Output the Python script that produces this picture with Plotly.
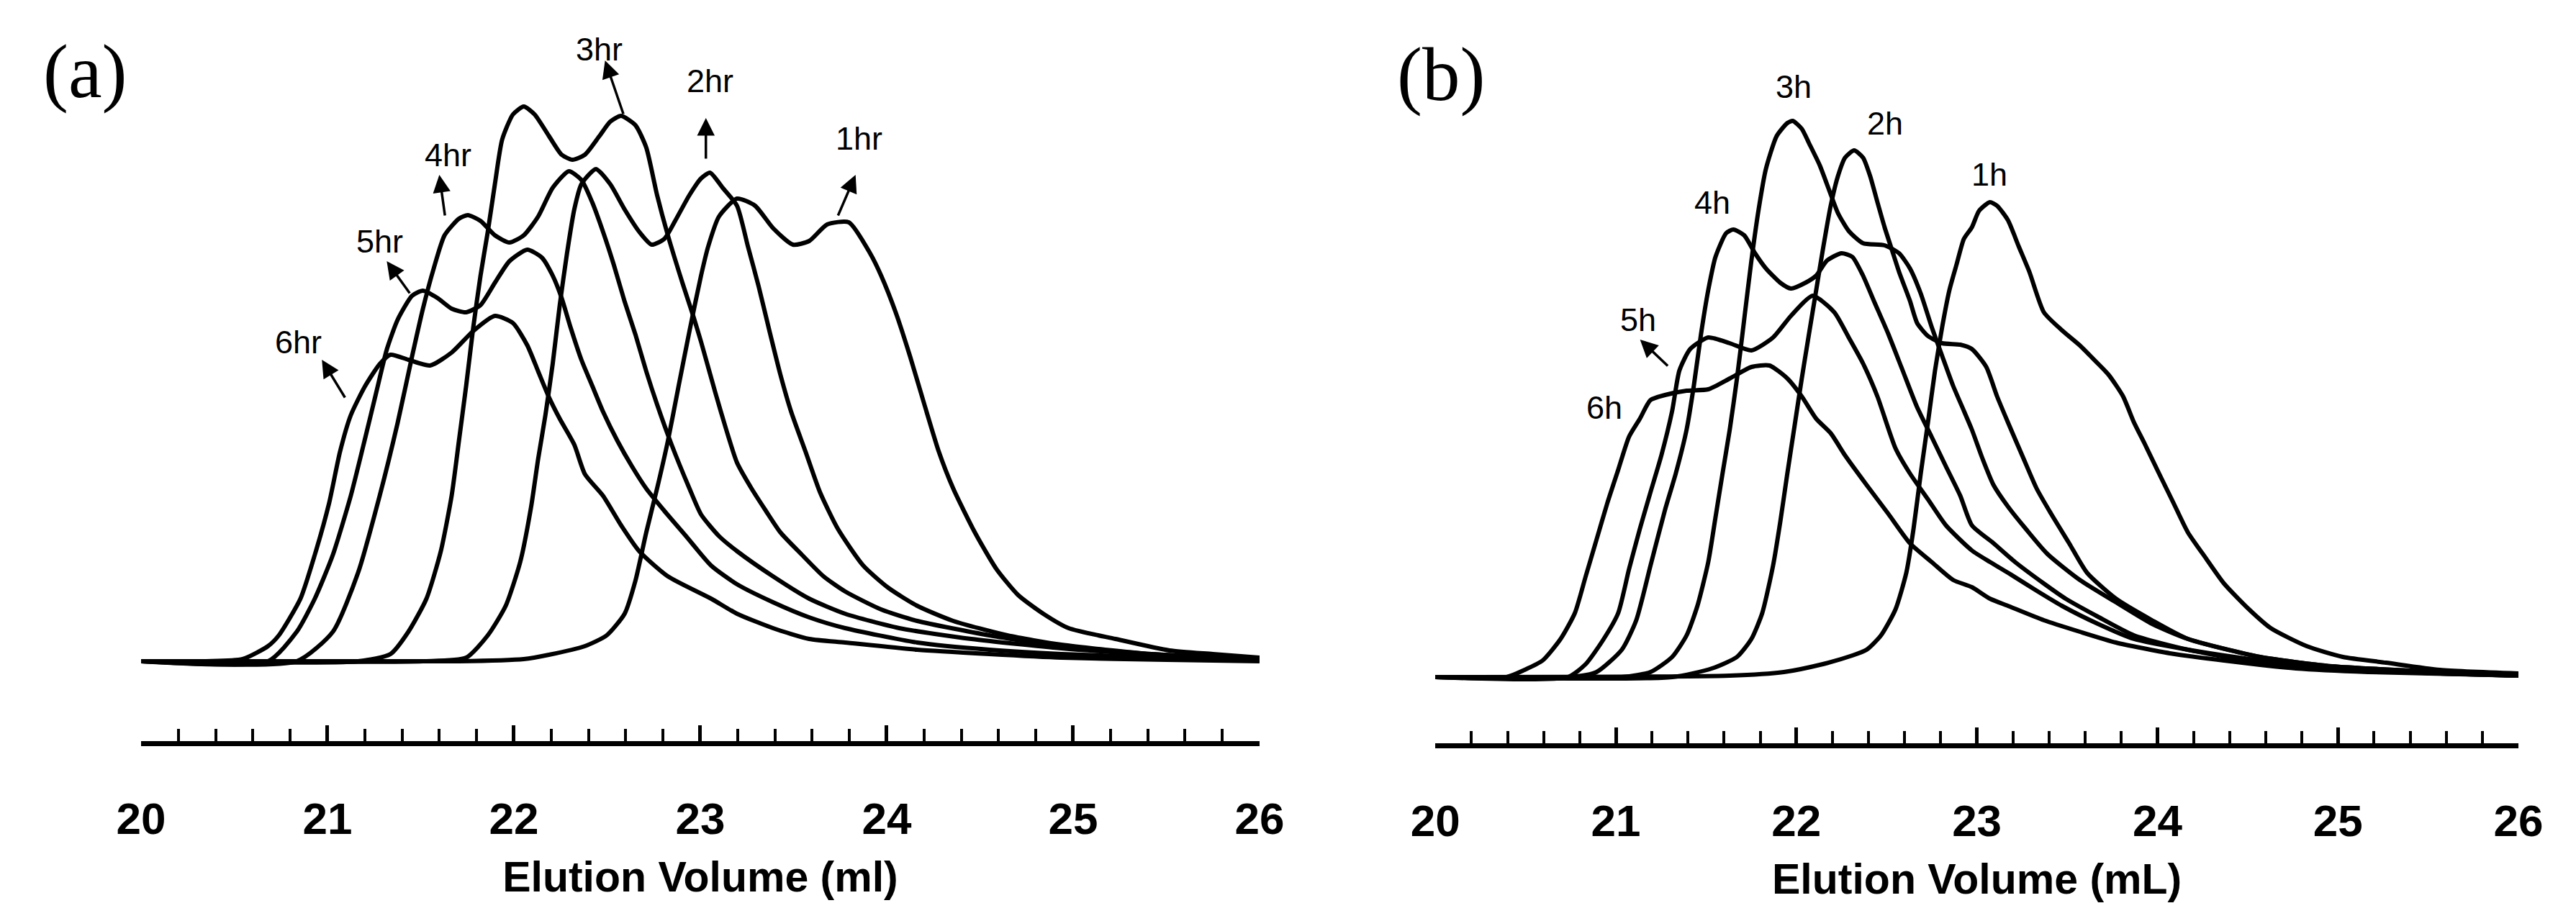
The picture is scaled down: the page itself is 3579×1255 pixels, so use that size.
import plotly.graph_objects as go

# Elution profiles.
# x = elution volume (ml), y = detector signal (arbitrary units, baseline = 0)

# (a) panel
a_6hr_ml = [20.0, 20.35, 20.545, 20.681, 20.739, 20.855, 20.932, 21.009, 21.067, 21.125, 21.203, 21.28, 21.338,
            21.434, 21.55, 21.666, 21.782, 21.898, 21.995, 22.072, 22.13, 22.188, 22.246, 22.324, 22.381, 22.478,
            22.575, 22.672, 22.826, 23.058, 23.197, 23.39, 23.584, 23.777, 24.164, 24.55, 24.937, 25.5, 26.0]
a_6hr_sig = [0, 0, 3, 21, 36, 87, 148, 220, 291, 342, 383, 413, 426, 419, 411, 429, 459, 480, 470, 439, 403, 367,
             337, 301, 260, 230, 189, 153, 118, 87, 66, 46, 31, 26, 16, 10, 5, 2, 0]

a_5hr_ml = [20.0, 20.681, 20.835, 20.932, 21.029, 21.125, 21.203, 21.261, 21.319, 21.377, 21.454, 21.512, 21.589,
            21.666, 21.744, 21.821, 21.898, 21.976, 22.072, 22.15, 22.208, 22.256, 22.304, 22.362, 22.42, 22.478,
            22.556, 22.633, 22.71, 22.807, 22.923, 23.058, 23.197, 23.39, 23.584, 23.777, 24.164, 24.55, 24.937,
            25.52, 26.0]
a_5hr_sig = [0, 0, 41, 87, 148, 230, 311, 373, 434, 475, 508, 515, 505, 490, 485, 495, 526, 556, 572, 561, 536, 505,
             464, 419, 383, 347, 306, 271, 240, 209, 174, 133, 107, 82, 61, 46, 26, 16, 10, 5, 1]

a_4hr_ml = [20.0, 20.835, 21.029, 21.164, 21.28, 21.377, 21.454, 21.512, 21.57, 21.628, 21.705, 21.753, 21.821,
            21.898, 21.976, 22.053, 22.13, 22.208, 22.295, 22.362, 22.42, 22.478, 22.536, 22.594, 22.652, 22.71,
            22.768, 22.846, 22.942, 23.004, 23.1, 23.197, 23.39, 23.584, 23.777, 24.067, 24.454, 24.937, 25.517, 26.0]
a_4hr_sig = [0, 0, 41, 123, 230, 332, 424, 490, 546, 592, 615, 620, 612, 592, 582, 592, 618, 658, 681, 669, 638, 597,
             551, 500, 454, 403, 357, 301, 240, 204, 174, 153, 118, 87, 66, 46, 31, 18, 8, 2]

a_3hr_ml = [20.0, 21.164, 21.338, 21.434, 21.531, 21.608, 21.666, 21.705, 21.744, 21.782, 21.821, 21.86, 21.898,
            21.937, 21.995, 22.053, 22.111, 22.188, 22.256, 22.314, 22.381, 22.459, 22.517, 22.575, 22.652, 22.71,
            22.768, 22.826, 22.904, 22.962, 23.004, 23.081, 23.139, 23.197, 23.275, 23.352, 23.43, 23.545, 23.661,
            23.777, 23.97, 24.164, 24.55, 24.937, 25.42, 26.0]
a_3hr_sig = [0, 0, 10, 41, 87, 153, 230, 306, 383, 464, 536, 597, 663, 725, 760, 771, 760, 730, 704, 697, 704, 730,
             750, 758, 745, 714, 648, 592, 526, 480, 444, 373, 322, 276, 240, 209, 179, 148, 118, 97, 72, 56, 36, 21,
             10, 3]

a_2hr_ml = [20.0, 21.512, 21.744, 21.86, 21.956, 22.034, 22.092, 22.13, 22.169, 22.208, 22.246, 22.285, 22.324,
            22.362, 22.44, 22.517, 22.594, 22.672, 22.739, 22.807, 22.865, 22.942, 23.004, 23.052, 23.12, 23.197,
            23.255, 23.313, 23.371, 23.43, 23.487, 23.565, 23.642, 23.738, 23.874, 24.009, 24.164, 24.357, 24.647,
            24.937, 25.42, 26.0]
a_2hr_sig = [0, 0, 5, 36, 77, 138, 214, 281, 342, 413, 495, 567, 628, 663, 684, 663, 628, 597, 579, 587, 612, 648,
             671, 679, 658, 633, 577, 521, 459, 398, 347, 291, 235, 184, 133, 102, 77, 56, 36, 23, 10, 3]

a_1hr_ml = [20.0, 21.705, 22.053, 22.188, 22.381, 22.498, 22.594, 22.652, 22.71, 22.768, 22.826, 22.884, 22.942,
            23.004, 23.043, 23.1, 23.197, 23.294, 23.39, 23.497, 23.584, 23.68, 23.797, 23.913, 23.97, 24.048,
            24.125, 24.202, 24.28, 24.357, 24.473, 24.589, 24.705, 24.84, 24.976, 25.227, 25.517, 25.749, 26.0]
a_1hr_sig = [0, 0, 3, 9, 21, 36, 66, 112, 179, 240, 306, 383, 459, 536, 577, 618, 643, 633, 602, 579, 584, 607, 610,
             566, 536, 485, 424, 357, 291, 240, 179, 128, 92, 66, 46, 31, 15, 10, 5]

# (b) panel
b_6h_ml = [20.0, 20.394, 20.494, 20.594, 20.694, 20.773, 20.833, 20.893, 20.953, 21.013, 21.073, 21.133, 21.192,
           21.272, 21.392, 21.512, 21.631, 21.751, 21.851, 21.95, 22.03, 22.11, 22.19, 22.27, 22.389, 22.509, 22.629,
           22.749, 22.868, 22.972, 23.072, 23.172, 23.371, 23.57, 23.77, 24.069, 24.369, 24.768, 25.167, 26.0]
b_6h_sig = [0, 0, 10, 23, 53, 89, 140, 191, 242, 288, 334, 359, 385, 392, 398, 400, 415, 431, 433, 415, 390, 359, 339,
            308, 267, 227, 186, 160, 135, 125, 109, 99, 79, 63, 48, 33, 23, 12, 7, 2]

b_5h_ml = [20.0, 20.733, 20.833, 20.933, 21.013, 21.073, 21.133, 21.192, 21.252, 21.312, 21.352, 21.412, 21.512,
           21.631, 21.751, 21.871, 21.97, 22.09, 22.21, 22.29, 22.369, 22.449, 22.549, 22.629, 22.729, 22.828, 22.972,
           23.072, 23.172, 23.331, 23.471, 23.67, 23.87, 24.169, 24.568, 24.967, 25.565, 26.0]
b_5h_sig = [0, 0, 18, 53, 89, 150, 206, 257, 308, 370, 426, 456, 472, 464, 454, 472, 502, 530, 507, 472, 436, 390, 318,
            283, 247, 211, 176, 160, 145, 120, 99, 74, 53, 38, 23, 12, 5, 2]

b_4h_ml = [20.0, 20.75, 20.893, 21.033, 21.113, 21.192, 21.272, 21.332, 21.392, 21.432, 21.472, 21.512, 21.552,
           21.611, 21.651, 21.711, 21.771, 21.831, 21.911, 21.97, 22.05, 22.11, 22.17, 22.25, 22.31, 22.369, 22.429,
           22.509, 22.589, 22.669, 22.749, 22.828, 22.908, 22.972, 23.092, 23.211, 23.371, 23.491, 23.67, 23.87,
           24.169, 24.568, 24.967, 25.565, 26.0]
b_4h_sig = [0, 0, 7, 38, 79, 155, 232, 283, 344, 405, 477, 538, 584, 617, 622, 614, 589, 568, 548, 540, 548, 558, 579,
            589, 584, 558, 523, 477, 426, 375, 334, 293, 252, 211, 186, 160, 130, 109, 84, 58, 38, 20, 12, 5, 2]

b_3h_ml = [20.0, 21.033, 21.192, 21.312, 21.392, 21.452, 21.512, 21.552, 21.591, 21.631, 21.671, 21.711, 21.751,
           21.791, 21.831, 21.891, 21.95, 21.98, 22.03, 22.07, 22.13, 22.19, 22.23, 22.29, 22.369, 22.489, 22.569,
           22.629, 22.689, 22.749, 22.808, 22.868, 22.928, 22.972, 23.032, 23.092, 23.172, 23.271, 23.391, 23.57,
           23.77, 23.97, 24.169, 24.568, 24.967, 25.565, 26.0]
b_3h_sig = [0, 0, 7, 28, 58, 99, 160, 222, 283, 344, 415, 497, 579, 650, 706, 752, 770, 773, 762, 742, 711, 671, 645,
            620, 603, 600, 589, 568, 533, 487, 446, 405, 370, 344, 303, 267, 237, 206, 171, 135, 104, 74, 53, 28, 15,
            7, 2]

b_2h_ml = [20.0, 21.312, 21.532, 21.671, 21.751, 21.811, 21.871, 21.911, 21.95, 21.99, 22.03, 22.07, 22.11, 22.15,
           22.19, 22.23, 22.27, 22.32, 22.369, 22.409, 22.449, 22.489, 22.529, 22.569, 22.629, 22.669, 22.729, 22.808,
           22.908, 22.972, 23.052, 23.112, 23.172, 23.251, 23.331, 23.411, 23.511, 23.61, 23.77, 23.97, 24.169,
           24.568, 24.967, 25.565, 26.0]
b_2h_sig = [0, 0, 12, 28, 53, 89, 155, 216, 283, 349, 415, 477, 538, 599, 655, 696, 722, 732, 722, 696, 660, 625, 594,
            563, 523, 492, 474, 464, 462, 456, 431, 390, 354, 308, 262, 227, 186, 145, 109, 79, 53, 28, 15, 7, 2]

b_1h_ml = [20.0, 21.631, 21.931, 22.13, 22.31, 22.389, 22.469, 22.549, 22.609, 22.649, 22.689, 22.729, 22.768,
           22.808, 22.848, 22.888, 22.928, 22.972, 23.012, 23.072, 23.112, 23.172, 23.231, 23.291, 23.371, 23.471,
           23.57, 23.63, 23.73, 23.81, 23.87, 23.93, 24.009, 24.089, 24.169, 24.269, 24.369, 24.508, 24.628, 24.827,
           25.027, 25.266, 25.565, 26.0]
b_1h_sig = [0, 2, 7, 17, 30, 38, 58, 94, 145, 206, 283, 354, 426, 487, 538, 574, 609, 625, 648, 660, 655, 635, 599,
            563, 507, 482, 461, 446, 420, 390, 354, 324, 283, 242, 201, 165, 130, 94, 68, 43, 28, 20, 10, 5]

# curve labels: (text, x, y) and arrows: (x, y of head, tail offset in px)
a_labels = [('6hr', 20.845, 444), ('5hr', 21.28, 584), ('4hr', 21.648, 704),
            ('3hr', 22.458, 851), ('2hr', 23.053, 807), ('1hr', 23.852, 727)]
a_arrows = [(20.97, 419, 33, 54), (21.318, 556, 33, 46), (21.6, 676, 8, 58),
            (22.489, 835, 26, 76), (23.03, 755, 0, 58), (23.833, 676, -25, 58)]
b_labels = [('6h', 20.935, 375), ('5h', 21.122, 497), ('4h', 21.533, 660),
            ('3h', 21.983, 821), ('2h', 22.491, 770), ('1h', 23.07, 699)]
b_arrows = [(21.134, 469, 40, 38)]

W, H = 3579, 1255
LINE = dict(color='black', width=6, shape='spline', smoothing=0.6)

fig = go.Figure()
for xs, ys, name in [(a_6hr_ml, a_6hr_sig, '6hr'), (a_5hr_ml, a_5hr_sig, '5hr'), (a_4hr_ml, a_4hr_sig, '4hr'),
                     (a_3hr_ml, a_3hr_sig, '3hr'), (a_2hr_ml, a_2hr_sig, '2hr'), (a_1hr_ml, a_1hr_sig, '1hr')]:
    fig.add_trace(go.Scatter(x=xs, y=ys, mode='lines', line=LINE, name=name, xaxis='x', yaxis='y'))
for xs, ys, name in [(b_6h_ml, b_6h_sig, '6h'), (b_5h_ml, b_5h_sig, '5h'), (b_4h_ml, b_4h_sig, '4h'),
                     (b_3h_ml, b_3h_sig, '3h'), (b_2h_ml, b_2h_sig, '2h'), (b_1h_ml, b_1h_sig, '1h')]:
    fig.add_trace(go.Scatter(x=xs, y=ys, mode='lines', line=LINE, name=name, xaxis='x2', yaxis='y2'))


def elution_axis(left, right, line_y, title):
    return dict(domain=[left / W, right / W], range=[20, 26], anchor='free', position=1 - line_y / H,
                showline=True, linewidth=7, linecolor='black', showgrid=False, zeroline=False,
                ticks='inside', ticklen=22, tickwidth=5, tickcolor='black', tick0=20, dtick=1,
                minor=dict(ticks='inside', dtick=0.2, ticklen=17, tickwidth=4, tickcolor='black', showgrid=False),
                tickfont=dict(family='Liberation Sans, Arial, sans-serif', size=62, color='black', weight='bold'),
                ticklabelstandoff=48,
                title=dict(text=title, standoff=26,
                           font=dict(family='Liberation Sans, Arial, sans-serif', size=59, color='black',
                                     weight='bold')))


def signal_axis(base_y):
    # signal units equal pixels above the baseline
    return dict(visible=False, range=[-20, 900], domain=[(H - base_y - 20) / H, (H - base_y + 900) / H],
                showgrid=False, zeroline=False, fixedrange=True)


fig.update_layout(
    width=W, height=H, margin=dict(l=0, r=0, t=0, b=0),
    paper_bgcolor='white', plot_bgcolor='white', showlegend=False,
    xaxis=elution_axis(157, 1741, 1025, 'Elution Volume (ml)'),
    xaxis2=elution_axis(1990, 3524, 1028, 'Elution Volume (mL)'),
    yaxis=signal_axis(911) | dict(anchor='x'),
    yaxis2=signal_axis(933) | dict(anchor='x2'),
)

label_font = dict(family='Liberation Sans, Arial, sans-serif', size=45, color='black')
for (text, x, y) in a_labels:
    fig.add_annotation(x=x, y=y, xref='x', yref='y', text=text, showarrow=False, font=label_font)
for (text, x, y) in b_labels:
    fig.add_annotation(x=x, y=y, xref='x2', yref='y2', text=text, showarrow=False, font=label_font)
for refs, arrows in [(('x', 'y'), a_arrows), (('x2', 'y2'), b_arrows)]:
    for (x, y, ax, ay) in arrows:
        fig.add_annotation(x=x, y=y, xref=refs[0], yref=refs[1], text='', showarrow=True, ax=ax, ay=ay,
                           arrowhead=2, arrowsize=1.4, arrowwidth=3.5, arrowcolor='black', standoff=0)

panel_font = dict(family='Liberation Serif, Times New Roman, serif', size=105, color='black')
fig.add_annotation(x=78 / W, y=1 - 92 / H, xref='paper', yref='paper', text='(a)', showarrow=False,
                   font=panel_font, xanchor='center', yanchor='middle')
fig.add_annotation(x=1998 / W, y=1 - 96 / H, xref='paper', yref='paper', text='(b)', showarrow=False,
                   font=panel_font, xanchor='center', yanchor='middle')

fig.write_html("out.html")
